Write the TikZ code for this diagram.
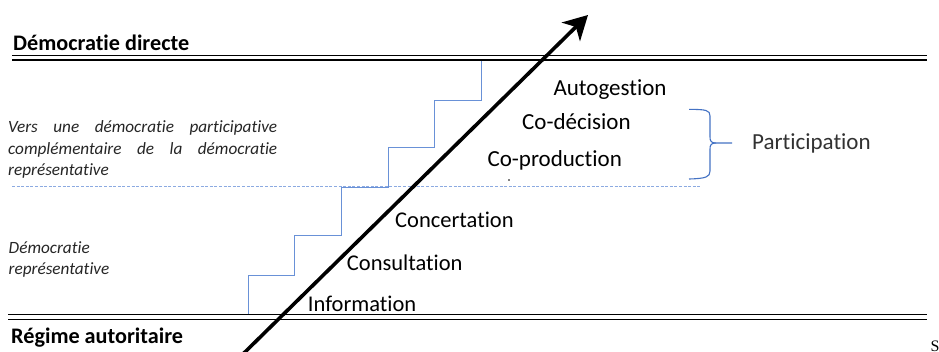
\documentclass[tikz,border=0pt]{standalone}
\usepackage{fontspec}
\setmainfont{Carlito}[Ligatures=NoCommon]
\newfontfamily\serifS{Liberation Serif}
\usetikzlibrary{arrows.meta}
\definecolor{stairblue}{RGB}{105,145,215}
\definecolor{dashblue}{RGB}{140,170,225}
\definecolor{braceblue}{RGB}{68,114,196}
\definecolor{partgray}{RGB}{50,50,50}
\tikzset{
  dbl/.style={line width=1.6pt, black},
  stair/.style={line width=0.9pt, stairblue},
  dashln/.style={line width=0.8pt, dashblue, dash pattern=on 3pt off 1.6pt},
  bigarrow/.style={line width=3.6pt, black, -{Stealth[length=24pt,width=26pt,inset=7pt]}},
  head/.style={font=\bfseries\fontsize{22.2}{24}\selectfont, inner sep=0pt, anchor=base west},
  side/.style={font=\itshape\fontsize{17.2}{21.2}\selectfont, inner sep=0pt, anchor=base west, color=black!85},
  lvl/.style={font=\fontsize{22.5}{26}\selectfont, inner sep=0pt, anchor=base west},
  lvltop/.style={font=\fontsize{23}{26}\selectfont, inner sep=0pt, anchor=base west},
  brace/.style={line width=1.1pt, braceblue}
}
\begin{document}
\begin{tikzpicture}[x=1pt,y=-1pt]
\useasboundingbox (0,0) rectangle (939,351);
\clip (0,0) rectangle (939,351);
\fill[white] (0,0) rectangle (939,351);
% double lines
\coordinate (t1a) at (12,55.5); \coordinate (t1b) at (927,55.5);
\coordinate (t2a) at (12,59.8); \coordinate (t2b) at (927,59.8);
\coordinate (b1a) at (8,314.6); \coordinate (b1b) at (927,314.6);
\coordinate (b2a) at (8,319.4); \coordinate (b2b) at (927,319.4);
\draw[dbl] (t1a) -- (t1b);
\draw[dbl] (t2a) -- (t2b);
\draw[dbl] (b1a) -- (b1b);
\draw[dbl] (b2a) -- (b2b);
% dashed separator
\coordinate (da) at (12,186.5); \coordinate (db) at (700,186.5);
\draw[dashln] (da) -- (db);
% staircase
\draw[stair] (248,314) |- (294,275) |- (341,235) |- (388,187.5) |- (434,147) |- (481,100) -- (481,61);
% headings
\node[head] (dd) at (13,50) {Démocratie directe};
\node[head] (ra) at (11,343) {Régime autoritaire};
% side texts
\node[side] (v1) at (8,132.7) {\makebox[269pt][s]{Vers une démocratie participative}};
\node[side] (v2) at (8,154) {\makebox[269pt][s]{complémentaire de la démocratie}};
\node[side] (v3) at (8,175) {représentative};
\node[side] (r1) at (8.5,253.3) {Démocratie};
\node[side] (r2) at (8.5,274) {représentative};
% arrow
\coordinate (arrS) at (243,354);
\coordinate (arrE) at (588,15);
\draw[bigarrow] (arrS) -- (arrE);
% levels
\node[lvltop] (auto) at (553.3,95) {Autogestion};
\node[lvltop] (codec) at (522,129.3) {Co-décision};
\node[lvltop] (coprod) at (487.3,166.7) {Co-production};
\node[lvl] (conc) at (395,227.3) {Concertation};
\node[lvl] (cons) at (346.7,270) {Consultation};
\node[lvl] (info) at (307.7,311) {Information};
\fill (509,180) circle (0.8);
% brace
\coordinate (brT) at (689,109.3);
\coordinate (brM) at (732,143);
\coordinate (brB) at (689,179);
\draw[brace] (brT) .. controls (706,109.5) and (710,110) .. (710,116) -- (710,137)
  .. controls (710,141) and (711,143) .. (716,143) -- (brM);
\draw[brace] (716,143) .. controls (711,143) and (710,145) .. (710,149) -- (710,171)
  .. controls (710,177) and (706,178.5) .. (brB);
\node[font=\fontsize{23}{26}\selectfont, inner sep=0pt, anchor=base west, color=partgray] (part) at (752,149) {Participation};
% clipped fragment bottom right
\node[font=\serifS\fontsize{16}{18}\selectfont, inner sep=0pt, anchor=north west] (frag) at (930.5,340.5) {S};
\end{tikzpicture}
\end{document}
